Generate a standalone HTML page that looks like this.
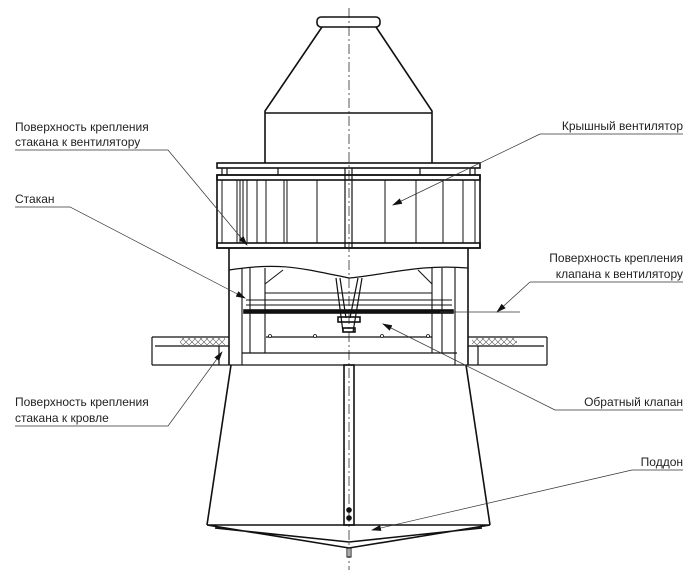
<!DOCTYPE html>
<html><head><meta charset="utf-8"><style>
body{margin:0;background:#fff}
svg{display:block}
text{font-family:"Liberation Sans",sans-serif;font-size:12px;fill:#222}
</style></head><body>
<svg width="700" height="583" viewBox="0 0 700 583" xmlns="http://www.w3.org/2000/svg">
<defs><marker id="a" markerWidth="10" markerHeight="6" refX="9" refY="3" orient="auto" markerUnits="userSpaceOnUse"><path d="M0,0 L10,3 L0,6z" fill="#111"/></marker>
<pattern id="h" width="6" height="6" patternUnits="userSpaceOnUse"><path d="M0,0L6,6M6,0L0,6" stroke="#555" stroke-width="0.6"/></pattern></defs>
<g stroke="#111" fill="none" stroke-width="1.6">
<line x1="349" y1="8" x2="349" y2="570" stroke-width="0.7" stroke-dasharray="10,3,2,3"/>
<rect x="317" y="17" width="63" height="10" rx="4"/>
<path d="M322,27 L265,111 L265,163 M376,27 L432,111 L432,163 M265,113 H432"/>
<rect x="217" y="163" width="263" height="5"/>
<rect x="217" y="175" width="263" height="5"/>
<rect x="217" y="175" width="263" height="73"/>
<rect x="217" y="243" width="263" height="5"/>
<path d="M222,168V175M227,168V175M475,168V175M470,168V175M278,168V175M420,168V175M345,168V248M352,168V248" stroke-width="1.2"/>
<path d="M222,180V243M237,180V243M240,180V243M243,180V243M247,180V243M257,180V243M266,180V243M284,180V243M287,180V243M317,180V243M385,180V243M416,180V243M443,180V243M463,180V243M475,180V243" stroke-width="1"/>
<path d="M229,248V365M468,248V365"/>
<path d="M229,270 C280,262 300,268 349,278 C390,274 420,264 468,268" stroke-width="1.2"/>
<path d="M242,268V365M250,268V353M265,268V353M432,268V353M442,268V353M455,268V365" stroke-width="1.1"/>
<path d="M265,293H432M246,300H452M246,305H452M265,284L283,270M432,284L418,270" stroke-width="1"/>
<rect x="244" y="310" width="209" height="3" fill="#111"/>
<path d="M266,337H432M242,353H457M229,365H468" stroke-width="1.2"/>
<g fill="#fff" stroke-width="0.8"><circle cx="270" cy="336" r="1.5"/><circle cx="315" cy="336" r="1.5"/><circle cx="382" cy="336" r="1.5"/><circle cx="428" cy="336" r="1.5"/></g>
<path d="M336,278L343,332M362,278L353,332M340,278L346,318M358,278L350,318" stroke-width="1.2"/>
<rect x="338" y="317" width="22" height="5"/><rect x="343" y="328" width="12" height="4"/>
<path d="M152,337H229M152,365H229M152,337V365M155,346H229M468,337H547M468,365H547M547,337V365M468,346H544M219,346V365M478,346V365" stroke-width="1.2"/>
<rect x="180" y="338" width="45" height="7" fill="url(#h)" stroke="none"/>
<rect x="472" y="338" width="45" height="7" fill="url(#h)" stroke="none"/>
<path d="M231,365L207,525M466,365L490,525M207,525H490M207,525L349,548L490,525M215,528L349,542L482,528"/>
<rect x="344" y="365" width="10" height="160"/>
<rect x="347" y="548" width="4" height="9" stroke-width="1"/>
<circle cx="349" cy="510" r="2" fill="#111"/><circle cx="349" cy="518" r="2" fill="#111"/>
</g>
<g stroke="#333" stroke-width="0.7" fill="none" marker-end="url(#a)">
<path d="M15,150H168L247,245"/>
<path d="M15,207H70L245,298"/>
<path d="M15,426H168L222,352"/>
<path d="M683,134H540L393,205"/>
<path d="M683,282H530L497,312"/>
<path d="M683,410H555L383,324"/>
<path d="M683,470H632L372,530"/>
</g>
<line x1="440" y1="312" x2="520" y2="312" stroke="#333" stroke-width="0.8"/>
<text x="15" y="131">Поверхность крепления</text>
<text x="15" y="146">стакана к вентилятору</text>
<text x="15" y="203">Стакан</text>
<text x="15" y="406">Поверхность крепления</text>
<text x="15" y="422">стакана к кровле</text>
<text x="683" y="130" text-anchor="end">Крышный вентилятор</text>
<text x="683" y="262" text-anchor="end">Поверхность крепления</text>
<text x="683" y="278" text-anchor="end">клапана к вентилятору</text>
<text x="683" y="406" text-anchor="end">Обратный клапан</text>
<text x="683" y="466" text-anchor="end">Поддон</text>
</svg>
</body></html>
